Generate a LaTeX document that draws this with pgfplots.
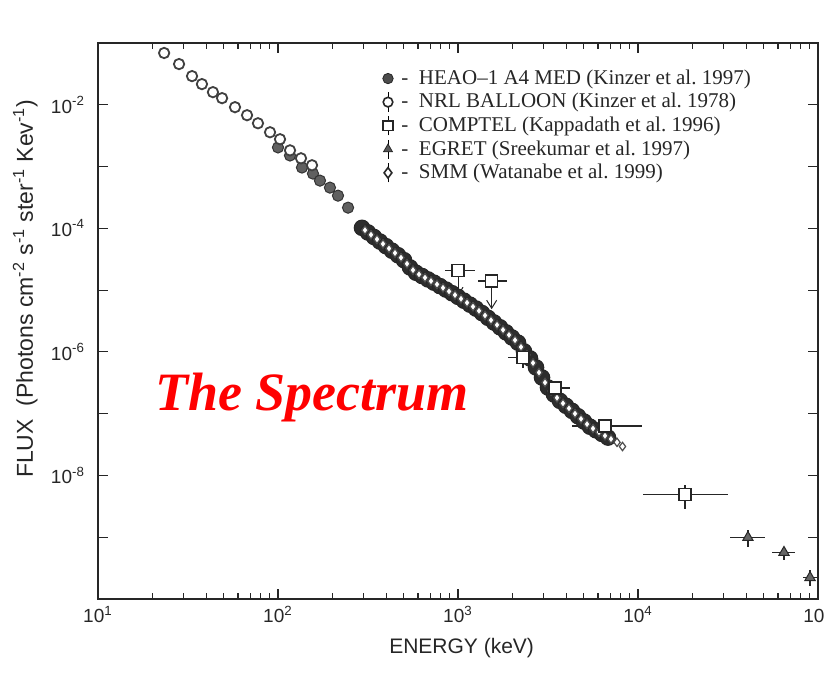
\documentclass[border=0pt]{standalone}
\usepackage{fontspec}
\setmainfont{Liberation Sans}
\newfontfamily\timesfont{Liberation Serif}
\usepackage{pgfplots}
\pgfplotsset{compat=1.18}
\usetikzlibrary{arrows.meta}
\pgfplotsset{
  barlegend/.style={legend image code/.code={%
    \draw[black,line width=0.5pt] (0.15cm,-0.17cm)--(0.15cm,0.17cm);
    \draw[##1] plot coordinates {(0.15cm,0cm)};}},
  dotlegend/.style={legend image code/.code={%
    \draw[##1] plot coordinates {(0.15cm,0cm)};}},
}
\begin{document}
\begin{tikzpicture}
\begin{axis}[
  scale only axis, width=360pt, height=278pt,
  xmode=log, ymode=log,
  xmin=10, xmax=1e5, ymin=1e-10, ymax=1e-1,
  xtick={10,100,1000,10000,100000},
  xticklabels={10\textsuperscript{1},10\textsuperscript{2},10\textsuperscript{3},10\textsuperscript{4},10\textsuperscript{5}},
  minor xtick={20,30,40,50,60,70,80,90,200,300,400,500,600,700,800,900,2000,3000,4000,5000,6000,7000,8000,9000,20000,30000,40000,50000,60000,70000,80000,90000},
  ytick={1e-9,1e-8,1e-7,1e-6,1e-5,1e-4,1e-3,1e-2},
  yminorticks=false,
  yticklabels={,10\textsuperscript{-8},,10\textsuperscript{-6},,10\textsuperscript{-4},,10\textsuperscript{-2}},
  tick align=inside, major tick length=5pt, minor tick length=3pt,
  tick style={black!85, line width=0.6pt},
  axis line style={black!85, line width=0.9pt},
  ticklabel style={font=\fontsize{9.5}{10}\selectfont, black!85},
  yticklabel style={xshift=-3pt},
  xlabel={ENERGY (keV)},
  ylabel={FLUX\ \ (Photons cm\textsuperscript{-2} s\textsuperscript{-1} ster\textsuperscript{-1} Kev\textsuperscript{-1})},
  every axis x label/.style={at={(axis description cs:0.505,-0.088)}, anchor=center,
    font=\fontsize{10.5}{12}\selectfont, black!85},
  every axis y label/.style={at={(axis description cs:-0.101,0.558)}, rotate=90, anchor=center,
    font=\fontsize{11.5}{12}\selectfont, black!85},
  legend style={at={(axis description cs:0.395,0.958)}, anchor=north west, draw=none, fill=none,
    font=\timesfont\fontsize{10.5}{11}\selectfont, row sep=0pt, inner sep=0pt,
    nodes={inner sep=1.5pt, text=black!85}},
  legend cell align=left,
]
% HEAO-1 A4 MED (gray filled circles)
\addplot[forget plot, only marks, mark=*, mark size=2.8pt,
  mark options={fill=gray!75!black, draw=black!80, line width=0.5pt}] coordinates {
  (100,2.04e-3) (116.6,1.51e-3) (135.9,9.64e-4) (156.4,7.69e-4) (171.1,5.92e-4)
  (194.4,4.56e-4) (215.4,3.38e-4) (245.0,2.16e-4)
};
% low-energy open circles
\addplot[forget plot, only marks, mark=*, mark size=2.6pt,
  mark options={fill=white, draw=black!75, line width=0.9pt}] coordinates {
  (23.3,0.0689) (28.2,0.0456) (33.3,0.0291) (37.8,0.0216) (43.5,0.0160) (48.9,0.0128)
  (57.7,0.00914) (67.3,0.00678) (77.4,0.00502) (90.3,0.00359) (102.6,0.00277)
  (116.6,0.00183) (134.2,0.00136) (154.5,0.00105)
};
% NRL balloon (dark band)
\addplot[forget plot, only marks, mark=*, mark size=3.9pt,
  mark options={fill=gray!35!black, draw=black!85, line width=0.5pt}] coordinates {
  (292.9,1.019e-4) (316.2,8.57e-5) (341.5,7.24e-5) (368.6,6.10e-5) (398.1,5.14e-5)
  (429.9,4.34e-5) (464.2,3.67e-5) (501.2,3.05e-5) (541.2,2.33e-5) (584.5,1.91e-5)
  (631.0,1.69e-5) (681.3,1.49e-5) (735.6,1.32e-5) (794.3,1.16e-5) (857.7,1.02e-5)
  (926.1,8.91e-6) (1000,7.78e-6) (1079.9,6.73e-6) (1166,5.81e-6) (1258.9,5.02e-6)
  (1359.4,4.25e-6) (1467.8,3.56e-6) (1584.9,2.99e-6) (1711.4,2.50e-6) (1847.8,2.07e-6)
  (1995.3,1.71e-6) (2154.4,1.41e-6) (2326.3,1.02e-6) (2511.9,7.83e-7) (2712.3,5.60e-7)
  (2928.6,3.85e-7) (3162.3,2.65e-7) (3414.5,2.04e-7) (3686.9,1.61e-7) (3981.1,1.34e-7)
  (4298.7,1.11e-7) (4641.6,9.08e-8) (5011.9,7.46e-8) (5411.7,6.15e-8) (5843.4,5.37e-8)
  (6309.6,4.70e-8) (6812.9,4.10e-8)
};
% SMM (diamonds)
\addplot[forget plot, only marks, mark=diamond*, mark size=2.1pt,
  mark options={fill=white, draw=black!70, line width=0.6pt}] coordinates {
  (304.3,9.35e-5) (328.6,7.88e-5) (354.8,6.65e-5) (383.1,5.60e-5) (413.7,4.72e-5)
  (446.7,3.99e-5) (482.3,3.35e-5) (520.8,2.67e-5) (562.4,2.11e-5) (607.3,1.80e-5)
  (655.6,1.59e-5) (707.9,1.40e-5) (764.4,1.24e-5) (825.4,1.09e-5) (891.3,9.53e-6)
  (962.4,8.33e-6) (1039.2,7.24e-6) (1122.2,6.25e-6) (1211.6,5.40e-6) (1308.2,4.62e-6)
  (1412.5,3.89e-6) (1525.3,3.26e-6) (1647.0,2.73e-6) (1778.3,2.27e-6) (1920.1,1.88e-6)
  (2073.3,1.55e-6) (2238.7,1.20e-6) (2417.3,8.94e-7) (2610.2,6.62e-7) (2818.4,4.64e-7)
  (3043.2,3.19e-7) (3286.1,2.33e-7) (3548.1,1.81e-7) (3831.1,1.47e-7) (4136.8,1.22e-7)
  (4466.8,1.00e-7) (4823.0,8.23e-8) (5207.9,6.77e-8) (5623.4,5.75e-8) (6071.8,5.02e-8)
  (6556.2,4.39e-8) (7079.5,3.89e-8) (7644.0,3.44e-8) (8200,2.94e-8)
};
% COMPTEL upper-limit arrows
\addplot[forget plot, black!85, line width=0.5pt, -{Straight Barb[length=4pt,width=5pt]}] coordinates {(1000,2.06e-5) (1000,7.98e-6)};
\addplot[forget plot, black!85, line width=0.5pt, -{Straight Barb[length=4pt,width=5pt]}] coordinates {(1538,1.40e-5) (1538,4.91e-6)};
% COMPTEL squares
\addplot[forget plot, only marks, mark=square*, mark size=3pt,
  mark options={fill=white, draw=black!85, line width=0.6pt},
  error bars/.cd, x dir=both, x explicit, y dir=both, y explicit,
  error bar style={black!85, line width=0.6pt}, error mark=none] coordinates {
  (1000,2.06e-5) += (242,0) -= (153,0)
  (1538,1.40e-5) += (333,0) -= (247,0)
  (2296,8.0e-7) += (486,3e-7) -= (399,2.6e-7)
  (3459,2.6e-7) += (729,0.8e-7) -= (418,0.7e-7)
  (6561,6.3e-8) += (3959,1.2e-8) -= (2261,1.1e-8)
  (18240,4.95e-9) += (13360,2.05e-9) -= (7570,2.1e-9)
};
% EGRET triangles
\addplot[forget plot, only marks, mark=triangle*, mark size=3pt,
  mark options={fill=gray!80!black, draw=black!85, line width=0.5pt},
  error bars/.cd, x dir=both, x explicit, y dir=both, y explicit,
  error bar style={black!85, line width=0.6pt}, error mark=none] coordinates {
  (40800,9.9e-10) += (10000,3.1e-10) -= (8370,3.0e-10)
  (64700,5.67e-10) += (9800,1.2e-10) -= (9200,1.44e-10)
  (90300,2.22e-10) += (9700,0.68e-10) -= (7700,0.62e-10)
};
% legend
\addlegendimage{only marks, mark=*, mark size=2.6pt, mark options={fill=gray!60!black, draw=black!85}, dotlegend}
\addlegendentry{\ -\ \ HEAO–1 A4 MED (Kinzer et al.\ 1997)}
\addlegendimage{only marks, mark=*, mark size=2.4pt, mark options={fill=white, draw=black!85, line width=0.8pt}, barlegend}
\addlegendentry{\ -\ \ NRL BALLOON (Kinzer et al.\ 1978)}
\addlegendimage{only marks, mark=square*, mark size=2.4pt, mark options={fill=white, draw=black!85, line width=0.8pt}, barlegend}
\addlegendentry{\ -\ \ COMPTEL (Kappadath et al.\ 1996)}
\addlegendimage{only marks, mark=triangle*, mark size=2.6pt, mark options={fill=gray!70!black, draw=black!85}, barlegend}
\addlegendentry{\ -\ \ EGRET (Sreekumar et al.\ 1997)}
\addlegendimage{only marks, mark=diamond*, mark size=2.6pt, mark options={fill=white, draw=black!85, line width=0.8pt}, barlegend}
\addlegendentry{\ -\ \ SMM (Watanabe et al.\ 1999)}
% title box
\node[fill=white, inner sep=0pt, minimum width=176pt, minimum height=42pt, text=red,
  font=\timesfont\bfseries\itshape\fontsize{27}{30}\selectfont]
  at (axis description cs:0.297,0.363) {The Spectrum};
\end{axis}
\pgfresetboundingbox
\useasboundingbox ([shift={(-49pt,-44.5pt)}]current axis.south west) rectangle ([shift={(3pt,21.5pt)}]current axis.north east);
\end{tikzpicture}
\end{document}
